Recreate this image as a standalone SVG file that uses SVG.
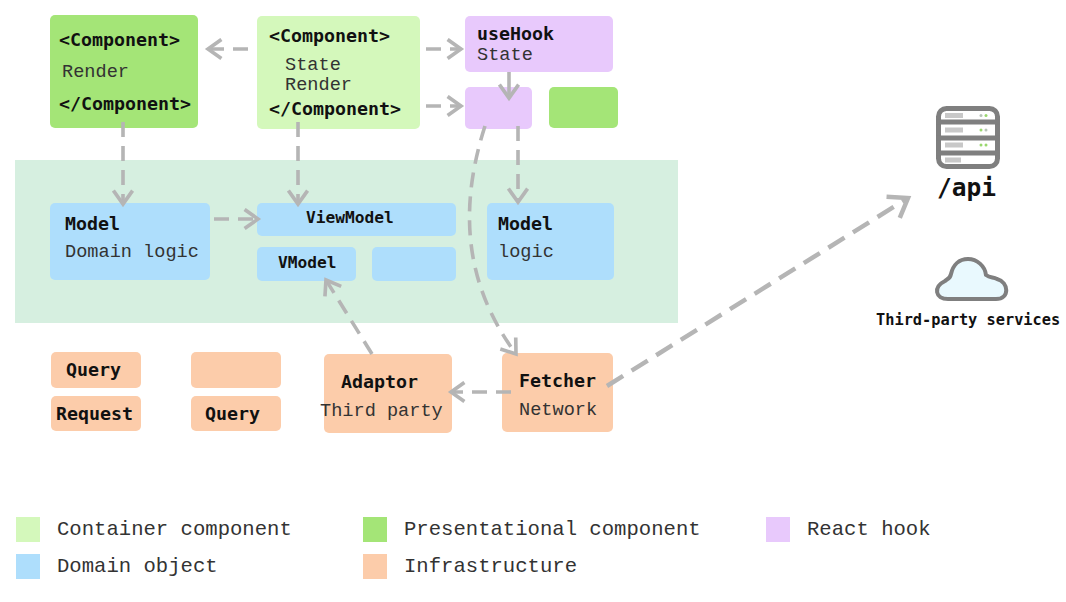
<svg xmlns="http://www.w3.org/2000/svg" width="1066" height="602" viewBox="0 0 1066 602">
<defs>
<marker id="ah" markerUnits="userSpaceOnUse" markerWidth="23" markerHeight="23" refX="18" refY="12" orient="auto" viewBox="0 0 24 24"><path d="M4 2L18 12L4 22" fill="none" stroke="#b5b5b5" stroke-width="3.800"/></marker>
<marker id="ahl" markerUnits="userSpaceOnUse" markerWidth="30" markerHeight="30" refX="18" refY="12" orient="auto" viewBox="0 0 24 24"><path d="M4 2L18 12L4 22" fill="none" stroke="#b5b5b5" stroke-width="3.600"/></marker>
</defs>
<style>
text{font-family:"DejaVu Sans Mono","Liberation Mono",monospace;fill:#222}
.b{font-weight:700;fill:#111;font-size:18.300px}
.s{font-size:16.200px}
.r{font-family:"Liberation Mono",monospace;font-size:18.600px;fill:#333}
.c{fill:none;stroke:#b5b5b5;stroke-width:3.600;stroke-dasharray:15 9;marker-end:url(#ah)}
.con{fill:#d4f8bb}.pre{fill:#a4e577}.hook{fill:#e8c9fc}.dom{fill:#aedefc}.inf{fill:#fcccaa}
.lg{font-family:"Liberation Mono",monospace;font-size:20.600px;fill:#333}
</style>
<rect id="domain-layer" x="15" y="160" width="663" height="163" fill="#d6efe0"/>
<g id="n-present"><rect class="pre" x="50" y="15" width="148" height="113" rx="5"/><text class="b" x="59" y="46">&lt;Component&gt;</text><text class="r" x="62" y="77">Render</text><text class="b" x="59" y="110">&lt;/Component&gt;</text></g>
<g id="n-container"><rect class="con" x="257" y="16" width="163" height="113" rx="5"/><text class="b" x="269" y="42">&lt;Component&gt;</text><text class="r" x="285" y="70">State</text><text class="r" x="285" y="90">Render</text><text class="b" x="269" y="115">&lt;/Component&gt;</text></g>
<g id="n-usehook"><rect class="hook" x="465" y="16" width="148" height="56" rx="5"/><text class="b" x="477" y="40">useHook</text><text class="r" x="477" y="60">State</text></g>
<g id="n-hook2"><rect class="hook" x="465" y="87" width="67" height="42" rx="5"/></g>
<g id="n-pres2"><rect class="pre" x="549" y="87" width="69" height="41" rx="5"/></g>
<g id="n-model1"><rect class="dom" x="50" y="203" width="160" height="77" rx="5"/><text class="b" x="65" y="230">Model</text><text class="r" x="65" y="257">Domain logic</text></g>
<g id="n-viewmodel"><rect class="dom" x="257" y="203" width="199" height="33" rx="5"/><text class="b s" x="306" y="223">ViewModel</text></g>
<g id="n-vmodel"><rect class="dom" x="257" y="247" width="99" height="34" rx="5"/><text class="b s" x="278" y="268">VModel</text></g>
<g id="n-blank"><rect class="dom" x="372" y="247" width="84" height="34" rx="5"/></g>
<g id="n-model2"><rect class="dom" x="487" y="203" width="127" height="77" rx="5"/><text class="b" x="498" y="230">Model</text><text class="r" x="498" y="257">logic</text></g>
<g id="n-query1"><rect class="inf" x="51" y="352" width="90" height="36" rx="5"/><text class="b" x="66" y="376">Query</text></g>
<g id="n-blank2"><rect class="inf" x="191" y="352" width="90" height="36" rx="5"/></g>
<g id="n-request"><rect class="inf" x="51" y="396" width="90" height="35" rx="5"/><text class="b" x="56" y="420">Request</text></g>
<g id="n-query2"><rect class="inf" x="191" y="396" width="90" height="35" rx="5"/><text class="b" x="205" y="420">Query</text></g>
<g id="n-adaptor"><rect class="inf" x="324" y="354" width="128" height="79" rx="5"/><text class="b" x="341" y="388">Adaptor</text><text class="r" x="320" y="416">Third party</text></g>
<g id="n-fetcher"><rect class="inf" x="502" y="353" width="111" height="79" rx="5"/><text class="b" x="519" y="387">Fetcher</text><text class="r" x="519" y="415">Network</text></g>
<g id="connectors">
<path class="c" d="M248 49H208"/>
<path class="c" d="M426 49H461"/>
<path class="c" d="M426 106H461"/>
<path class="c" d="M509 72V98" style="stroke-dasharray:none"/>
<path class="c" d="M123 122V204"/>
<path class="c" d="M298 122V204"/>
<path class="c" d="M518 126V202"/>
<path class="c" d="M214 219H258"/>
<path class="c" d="M485 126C458 210 465 285 516 354"/>
<path class="c" d="M372 354L326 280"/>
<path class="c" d="M511 392H451"/>
<path class="c" d="M607 386L908 198" style="stroke-width:4.500;stroke-dasharray:19 10;marker-end:url(#ahl)"/>
</g>
<g id="n-api">
<rect x="938.500" y="108.500" width="59" height="58" rx="8" fill="#fff" stroke="#7f7f7f" stroke-width="5"/>
<path d="M936 122H1000M936 138H1000M936 153H1000" stroke="#7f7f7f" stroke-width="5"/>
<path d="M945 115.500H963M945 130H963M945 145H963M945 160H961" stroke="#c8c8c8" stroke-width="5"/>
<circle cx="981" cy="115.500" r="1.500" fill="#b8c4b8"/><circle cx="986" cy="115.500" r="1.500" fill="#9ad86e"/><circle cx="981" cy="130" r="1.500" fill="#9ad86e"/><circle cx="986" cy="130" r="1.500" fill="#b8c4b8"/><circle cx="981" cy="145" r="1.500" fill="#9ad86e"/><circle cx="986" cy="145" r="1.500" fill="#9ad86e"/>
<text class="b" x="937" y="196" style="font-size:24.500px">/api</text>
</g>
<g id="n-cloud">
<path d="M948 299H996C1010 299 1009 282 997 279C993 277 990 278 986 275C985 266 977 259 968 259C959 259 953 265 951 274C950 279 947 279 945 281C933 287 935 299 948 299Z" fill="#e9f9fe" stroke="#7f7f7f" stroke-width="4"/>
<text class="b" x="876" y="325" style="font-size:15.300px">Third-party services</text>
</g>
<g id="legend">
<rect class="con" x="16" y="517" width="24" height="25"/><text class="lg" x="57" y="535">Container component</text>
<rect class="pre" x="363" y="517" width="24" height="25"/><text class="lg" x="404" y="535">Presentational component</text>
<rect class="hook" x="766" y="517" width="24" height="25"/><text class="lg" x="807" y="535">React hook</text>
<rect class="dom" x="16" y="554" width="24" height="25"/><text class="lg" x="57" y="572">Domain object</text>
<rect class="inf" x="363" y="554" width="24" height="25"/><text class="lg" x="404" y="572">Infrastructure</text>
</g>
</svg>
